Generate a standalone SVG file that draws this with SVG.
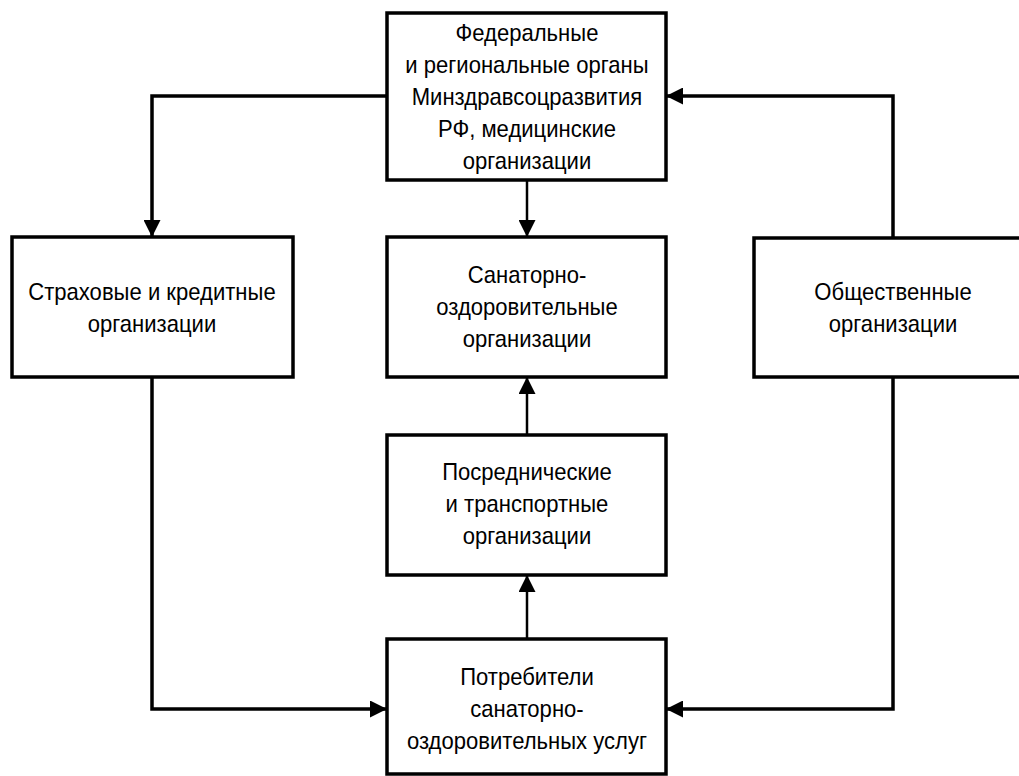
<svg xmlns="http://www.w3.org/2000/svg" width="1019" height="776" viewBox="0 0 1019 776">
<style>
.box{fill:#fff;stroke:#000;stroke-width:3.5}
.t{font-family:"Liberation Sans",Arial,sans-serif;font-size:24px;fill:#000;text-anchor:middle}
.c{fill:none;stroke:#000;stroke-width:3.5}
.cs{fill:none;stroke:#000;stroke-width:2.5}
</style>
<defs>
<marker id="ah" markerUnits="userSpaceOnUse" markerWidth="17" markerHeight="17" refX="17" refY="8.5" orient="auto" viewBox="0 0 17 17">
<path d="M0,0 L17,8.5 L0,17 z" fill="#000"/>
</marker>
</defs>
<g id="connectors">
<path class="cs" d="M527,180 V237" marker-end="url(#ah)"/>
<path class="cs" d="M527,435 V377" marker-end="url(#ah)"/>
<path class="cs" d="M527,639 V575" marker-end="url(#ah)"/>
<path class="c" d="M387,96 H152 V237" marker-end="url(#ah)"/>
<path class="c" d="M152,377 V709 H387" marker-end="url(#ah)"/>
<path class="c" d="M893,377 V709 H666" marker-end="url(#ah)"/>
<path class="c" d="M893,238 V96 H666" marker-end="url(#ah)"/>
</g>
<g id="federal">
<rect class="box" x="387" y="13" width="279" height="167"/>
<g transform="scale(0.92 1)">
<text class="t" x="572.8" y="41">Федеральные</text>
<text class="t" x="572.8" y="73">и региональные органы</text>
<text class="t" x="572.8" y="105">Минздравсоцразвития</text>
<text class="t" x="572.8" y="137">РФ, медицинские</text>
<text class="t" x="572.8" y="169">организации</text>
</g>
</g>
<g id="insurance">
<rect class="box" x="12" y="237" width="281" height="140"/>
<g transform="scale(0.92 1)">
<text class="t" x="165.2" y="300">Страховые и кредитные</text>
<text class="t" x="165.2" y="332">организации</text>
</g>
</g>
<g id="sanatorium">
<rect class="box" x="387" y="237" width="279" height="140"/>
<g transform="scale(0.92 1)">
<text class="t" x="572.8" y="283">Санаторно-</text>
<text class="t" x="572.8" y="315">оздоровительные</text>
<text class="t" x="572.8" y="347">организации</text>
</g>
</g>
<g id="public">
<rect class="box" x="754" y="238" width="280" height="139"/>
<g transform="scale(0.92 1)">
<text class="t" x="970.7" y="300">Общественные</text>
<text class="t" x="970.7" y="332">организации</text>
</g>
</g>
<g id="intermediary">
<rect class="box" x="387" y="435" width="279" height="140"/>
<g transform="scale(0.92 1)">
<text class="t" x="572.8" y="480">Посреднические</text>
<text class="t" x="572.8" y="512">и транспортные</text>
<text class="t" x="572.8" y="544">организации</text>
</g>
</g>
<g id="consumers">
<rect class="box" x="387" y="639" width="279" height="135"/>
<g transform="scale(0.92 1)">
<text class="t" x="572.8" y="685">Потребители</text>
<text class="t" x="572.8" y="717">санаторно-</text>
<text class="t" x="572.8" y="749">оздоровительных услуг</text>
</g>
</g>
</svg>
